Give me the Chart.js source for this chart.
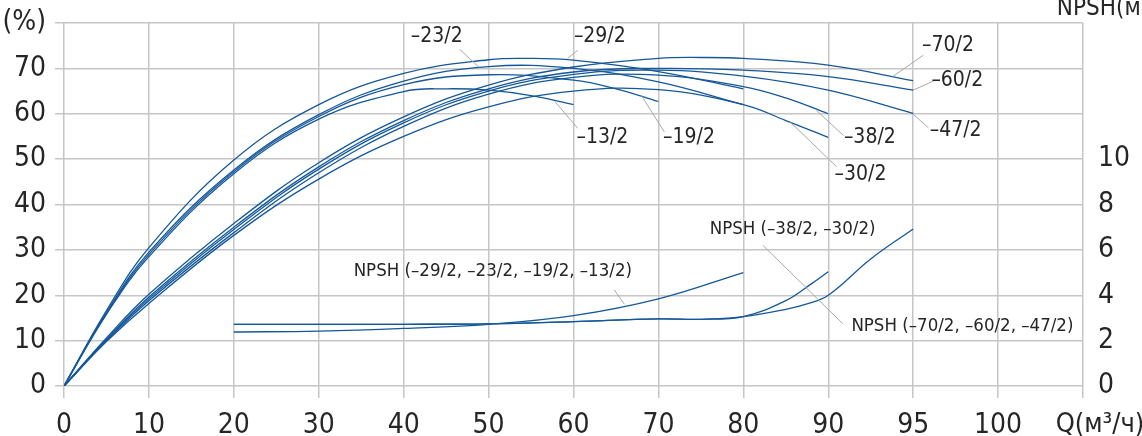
<!DOCTYPE html>
<html lang="ru">
<head>
<meta charset="UTF-8">
<title>КПД и NPSH насосов</title>
<style>
  html, body { margin: 0; padding: 0; background: #fff; }
  #wrap { width: 1142px; height: 436px; position: relative; }
</style>
</head>
<body>
<div id="wrap"><canvas id="chart"></canvas></div>
<script src="https://cdn.jsdelivr.net/npm/chart.js"></script>
<script>
  // ось Q неравномерная: 0..90 шагом 10, затем 95, 100
  const xLabels = ['0', '10', '20', '30', '40', '50', '60', '70', '80', '90', '95', '100', ''];
  function qToPos(q) {
    return q <= 90 ? q / 10 : 9 + (q - 90) / 5;
  }

  // КПД, %
  const q13 = [0, 5, 10, 20, 30, 40, 45, 50, 55, 60];
  const eta13 = [0, 15.8, 28.5, 46.8, 58.8, 64.9, 65.5, 65.2, 64, 62];
  const q19 = [0, 5, 10, 20, 30, 40, 50, 60, 65, 70];
  const eta19 = [0, 16.0, 29, 47.2, 59.4, 66.4, 68.6, 67.4, 65.5, 62.7];
  const q23 = [0, 5, 10, 20, 30, 40, 50, 60, 70, 80];
  const eta23 = [0, 16.2, 29.5, 47.6, 59.8, 67.2, 70.4, 70, 67, 62];
  const q29 = [0, 5, 10, 20, 30, 40, 50, 55, 60, 70, 80];
  const eta29 = [0, 16.6, 30.5, 49.8, 62, 68.9, 71.9, 72.2, 71.8, 69.3, 65.5];
  const q30 = [0, 5, 10, 20, 30, 40, 50, 60, 70, 80, 85, 90];
  const eta30 = [0, 9.8, 18.2, 33.2, 45.6, 55, 61.5, 65, 65.3, 62, 58.5, 54.8];
  const q38 = [0, 5, 10, 20, 30, 40, 50, 60, 70, 80, 85, 90];
  const eta38 = [0, 10, 18.8, 33.8, 47, 57.2, 64.3, 68, 68.5, 66, 63.5, 60];
  const q47 = [0, 5, 10, 20, 30, 40, 50, 60, 70, 80, 90, 95];
  const eta47 = [0, 10.2, 19.2, 34.5, 47.8, 58, 65, 68.7, 69.6, 68.3, 65.2, 60.1];
  const q60 = [0, 5, 10, 20, 30, 40, 50, 60, 70, 80, 90, 95];
  const eta60 = [0, 10.3, 19.6, 35, 48.3, 58.5, 65.5, 69.2, 70, 69.6, 68.2, 65.2];
  const q70 = [0, 5, 10, 20, 30, 40, 50, 60, 70, 75, 80, 90, 95];
  const eta70 = [0, 10.6, 20.2, 35.8, 49.2, 59.3, 66.3, 70.3, 72.2, 72.4, 72.2, 70.7, 67.3];

  // NPSH, м
  const qNpshA = [20, 30, 40, 50, 60, 70, 80];
  const npshA = [2.38, 2.42, 2.54, 2.72, 3.1, 3.84, 5.0];
  const qNpshB = [20, 30, 40, 50, 60, 70, 75, 80, 85, 88, 90];
  const npshB = [2.72, 2.72, 2.72, 2.74, 2.84, 2.96, 2.94, 3.06, 3.76, 4.5, 5.04];
  const qNpshC = [20, 30, 40, 50, 60, 70, 75, 80, 85, 87.5, 90, 92.5, 95];
  const npshC = [2.72, 2.72, 2.72, 2.74, 2.84, 2.96, 2.94, 3.06, 3.38, 3.62, 4.0, 5.6, 6.92];

  const FONT = "'Liberation Sans Narrow', 'DejaVu Sans Condensed', 'Arial Narrow', sans-serif";
  const LINE = '#15589a';
  const GRID = '#c6c6c6';
  const TEXT = '#262626';

  function pts(qs, vs) {
    return qs.map((q, i) => ({ x: qToPos(q), y: vs[i] }));
  }
  function curve(qs, vs, axis) {
    return {
      data: pts(qs, vs),
      yAxisID: axis,
      borderColor: LINE,
      borderWidth: 1.3,
      pointRadius: 0,
      fill: false,
      tension: 0.4
    };
  }

  // подписи кривых: текст, центр текста [Q, %], выноска [Q1, %1, Q2, %2]
  const notes = [
    { t: '–23/2', at: [43.9, 77.0], lead: [46.6, 74.2, 48.9, 70.2] },
    { t: '–29/2', at: [63.1, 77.0], lead: [60.5, 74.0, 59.3, 72.2] },
    { t: '–13/2', at: [63.4, 54.8], lead: [57.8, 62.7, 60.5, 56.8] },
    { t: '–19/2', at: [73.6, 54.8], lead: [68.0, 64.0, 70.7, 56.0] },
    { t: '–38/2', at: [92.45, 54.8], lead: [88.6, 60.75, 90.9, 55.2] },
    { t: '–30/2', at: [91.9, 46.7], lead: [85.5, 58.2, 90.5, 48.3] },
    { t: '–70/2', at: [97.05, 75.1], lead: [93.8, 68.2, 95.6, 72.9] },
    { t: '–60/2', at: [97.6, 67.4], lead: [95.0, 65.2, 96.3, 67.4] },
    { t: '–47/2', at: [97.5, 56.3], lead: [95.0, 59.9, 95.9, 56.9] },
    { t: 'NPSH (–29/2, –23/2, –19/2, –13/2)', at: [50.5, 25.3], lead: [64.8, 21.2, 66.0, 18.0] },
    { t: 'NPSH (–38/2, –30/2)', at: [85.8, 34.6], lead: [82.3, 31.0, 90.84, 13.8] },
    { t: 'NPSH (–70/2, –60/2, –47/2)', at: [97.9, 13.2], lead: null }
  ];

  const notesPlugin = {
    id: 'notes',
    afterDatasetsDraw(chart) {
      const ctx = chart.ctx;
      const xs = chart.scales.x, ys = chart.scales.y;
      const px = q => xs.getPixelForValue(qToPos(q));
      ctx.save();
      ctx.strokeStyle = '#a8a8a8';
      ctx.lineWidth = 1;
      notes.forEach(n => {
        if (!n.lead) return;
        ctx.beginPath();
        ctx.moveTo(px(n.lead[0]), ys.getPixelForValue(n.lead[1]));
        ctx.lineTo(px(n.lead[2]), ys.getPixelForValue(n.lead[3]));
        ctx.stroke();
      });
      ctx.fillStyle = TEXT;
      ctx.textAlign = 'center';
      ctx.textBaseline = 'middle';
      notes.forEach(n => {
        ctx.font = (n.t.startsWith('NPSH') ? '18.5px ' : '21px ') + FONT;
        ctx.fillText(n.t, px(n.at[0]), ys.getPixelForValue(n.at[1]));
      });
      // подписи осей справа
      const a = chart.chartArea;
      ctx.font = '27px ' + FONT;
      ctx.textBaseline = 'alphabetic';
      ctx.fillText('Q(м³/ч)', a.right + 17, 432);
      ctx.font = '24px ' + FONT;
      ctx.fillText('NPSH(м)', a.right + 20, 15);
      ctx.restore();
    }
  };

  // вертикальные оси: фиксированная ширина, без запаса сверху под подписи
  function fitSide(width) {
    return s => {
      s.width = width;
      s.paddingTop = 0;
      s.paddingBottom = 0;
    };
  }

  new Chart(document.getElementById('chart'), {
    type: 'line',
    data: {
      datasets: [
        curve(q13, eta13, 'y'), curve(q19, eta19, 'y'), curve(q23, eta23, 'y'),
        curve(q29, eta29, 'y'), curve(q30, eta30, 'y'), curve(q38, eta38, 'y'),
        curve(q47, eta47, 'y'), curve(q60, eta60, 'y'), curve(q70, eta70, 'y'),
        curve(qNpshA, npshA, 'y2'), curve(qNpshB, npshB, 'y2'), curve(qNpshC, npshC, 'y2')
      ]
    },
    options: {
      responsive: true,
      maintainAspectRatio: false,
      animation: false,
      devicePixelRatio: 1,
      layout: { padding: { top: 23, left: 0, right: 0, bottom: 0 } },
      plugins: { legend: { display: false }, tooltip: { enabled: false } },
      scales: {
        x: {
          type: 'linear', min: 0, max: 12,
          afterFit: s => { s.height = 50; s.paddingLeft = 0; s.paddingRight = 0; },
          ticks: {
            stepSize: 1, autoSkip: false, maxRotation: 0, padding: 11,
            color: TEXT, font: { family: FONT, size: 28 },
            callback: v => xLabels[v] ?? ''
          },
          grid: { color: GRID, lineWidth: 1.5, tickLength: 12 },
          border: { display: false }
        },
        y: {
          position: 'left', min: 0, max: 80,
          afterFit: fitSide(64),
          ticks: {
            stepSize: 10, padding: 9, color: TEXT, font: { family: FONT, size: 28 },
            callback: v => v === 80 ? '(%)' : v
          },
          grid: { color: GRID, lineWidth: 1.5, tickLength: 9 },
          border: { display: false }
        },
        y2: {
          position: 'right', min: 0, max: 16,
          afterFit: fitSide(59),
          ticks: {
            stepSize: 2, padding: 7, color: TEXT, font: { family: FONT, size: 28 },
            callback: v => v <= 10 ? v : ''
          },
          grid: { display: false },
          border: { display: false }
        }
      }
    },
    plugins: [notesPlugin]
  });
</script>
</body>
</html>
